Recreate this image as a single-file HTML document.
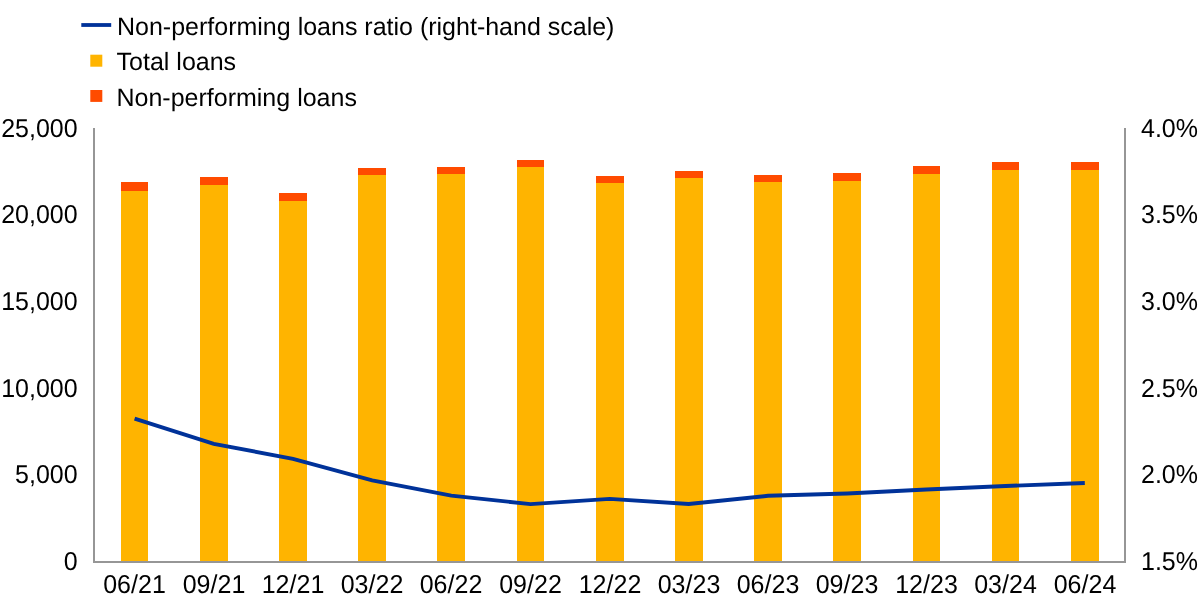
<!DOCTYPE html>
<html><head><meta charset="utf-8"><style>
html,body{margin:0;padding:0;background:#fff;}
body{width:1200px;height:600px;overflow:hidden;position:relative;}
svg{display:block;position:absolute;left:0;top:0;}
.t{filter:grayscale(1);}
text{text-rendering:geometricPrecision;font-family:"Liberation Sans",sans-serif;font-size:25px;fill:#000;}
</style></head><body>
<svg width="1200" height="600" viewBox="0 0 1200 600">
<rect width="1200" height="600" fill="#fff"/>
<rect x="121" y="182" width="27" height="9" fill="#FF4B00"/>
<rect x="121" y="191" width="27" height="370" fill="#FFB400"/>
<rect x="200" y="177" width="28" height="8" fill="#FF4B00"/>
<rect x="200" y="185" width="28" height="376" fill="#FFB400"/>
<rect x="279" y="193" width="28" height="8" fill="#FF4B00"/>
<rect x="279" y="201" width="28" height="360" fill="#FFB400"/>
<rect x="358" y="168" width="28" height="7" fill="#FF4B00"/>
<rect x="358" y="175" width="28" height="386" fill="#FFB400"/>
<rect x="437" y="167" width="28" height="7" fill="#FF4B00"/>
<rect x="437" y="174" width="28" height="387" fill="#FFB400"/>
<rect x="517" y="160" width="27" height="7" fill="#FF4B00"/>
<rect x="517" y="167" width="27" height="394" fill="#FFB400"/>
<rect x="596" y="176" width="28" height="7" fill="#FF4B00"/>
<rect x="596" y="183" width="28" height="378" fill="#FFB400"/>
<rect x="675" y="171" width="28" height="7" fill="#FF4B00"/>
<rect x="675" y="178" width="28" height="383" fill="#FFB400"/>
<rect x="754" y="175" width="28" height="7" fill="#FF4B00"/>
<rect x="754" y="182" width="28" height="379" fill="#FFB400"/>
<rect x="833" y="173" width="28" height="8" fill="#FF4B00"/>
<rect x="833" y="181" width="28" height="380" fill="#FFB400"/>
<rect x="913" y="166" width="27" height="8" fill="#FF4B00"/>
<rect x="913" y="174" width="27" height="387" fill="#FFB400"/>
<rect x="992" y="162" width="27" height="8" fill="#FF4B00"/>
<rect x="992" y="170" width="27" height="391" fill="#FFB400"/>
<rect x="1071" y="162" width="28" height="8" fill="#FF4B00"/>
<rect x="1071" y="170" width="28" height="391" fill="#FFB400"/>
<rect x="93" y="128" width="2" height="435" fill="#969696"/>
<rect x="1124" y="128" width="2" height="435" fill="#969696"/>
<rect x="93" y="561" width="1033" height="2" fill="#969696"/>
<polyline points="134.6,418.7 213.8,443.9 293,458.8 372.2,480.4 451.3,495.6 530.5,504.1 609.7,498.9 688.7,504.0 768,495.8 847.2,493.45 926.4,489.55 1005.6,486.05 1084.8,482.95" fill="none" stroke="#003299" stroke-width="3.9" stroke-linejoin="miter" stroke-linecap="butt"/>
<rect x="81.3" y="23.1" width="29.9" height="3.8" fill="#003299"/>
<rect x="90.3" y="54.7" width="12" height="12" fill="#FFB400"/>
<rect x="90.3" y="90" width="12" height="11.9" fill="#FF4B00"/>
</svg>
<svg class="t" width="1200" height="600" viewBox="0 0 1200 600">
<text transform="translate(77.6 137) scale(1 1.035)" text-anchor="end">25,000</text>
<text transform="translate(1141 137) scale(1 1.035)" text-anchor="start">4.0%</text>
<text transform="translate(77.6 223) scale(1 1.035)" text-anchor="end">20,000</text>
<text transform="translate(1141 223) scale(1 1.035)" text-anchor="start">3.5%</text>
<text transform="translate(77.6 310) scale(1 1.035)" text-anchor="end">15,000</text>
<text transform="translate(1141 310) scale(1 1.035)" text-anchor="start">3.0%</text>
<text transform="translate(77.6 397) scale(1 1.035)" text-anchor="end">10,000</text>
<text transform="translate(1141 397) scale(1 1.035)" text-anchor="start">2.5%</text>
<text transform="translate(77.6 483) scale(1 1.035)" text-anchor="end">5,000</text>
<text transform="translate(1141 483) scale(1 1.035)" text-anchor="start">2.0%</text>
<text transform="translate(77.6 570) scale(1 1.035)" text-anchor="end">0</text>
<text transform="translate(1141 570) scale(1 1.035)" text-anchor="start">1.5%</text>
<text transform="translate(134.5 593) scale(1 1.035)" text-anchor="middle">06/21</text>
<text transform="translate(214.0 593) scale(1 1.035)" text-anchor="middle">09/21</text>
<text transform="translate(293.0 593) scale(1 1.035)" text-anchor="middle">12/21</text>
<text transform="translate(372.0 593) scale(1 1.035)" text-anchor="middle">03/22</text>
<text transform="translate(451.0 593) scale(1 1.035)" text-anchor="middle">06/22</text>
<text transform="translate(530.5 593) scale(1 1.035)" text-anchor="middle">09/22</text>
<text transform="translate(610.0 593) scale(1 1.035)" text-anchor="middle">12/22</text>
<text transform="translate(689.0 593) scale(1 1.035)" text-anchor="middle">03/23</text>
<text transform="translate(768.0 593) scale(1 1.035)" text-anchor="middle">06/23</text>
<text transform="translate(847.0 593) scale(1 1.035)" text-anchor="middle">09/23</text>
<text transform="translate(926.5 593) scale(1 1.035)" text-anchor="middle">12/23</text>
<text transform="translate(1005.5 593) scale(1 1.035)" text-anchor="middle">03/24</text>
<text transform="translate(1085.0 593) scale(1 1.035)" text-anchor="middle">06/24</text>
<text x="117" y="35">Non-performing loans ratio (right-hand scale)</text>
<text x="116.6" y="70">Total loans</text>
<text x="116.5" y="106">Non-performing loans</text>
</svg>
</body></html>
